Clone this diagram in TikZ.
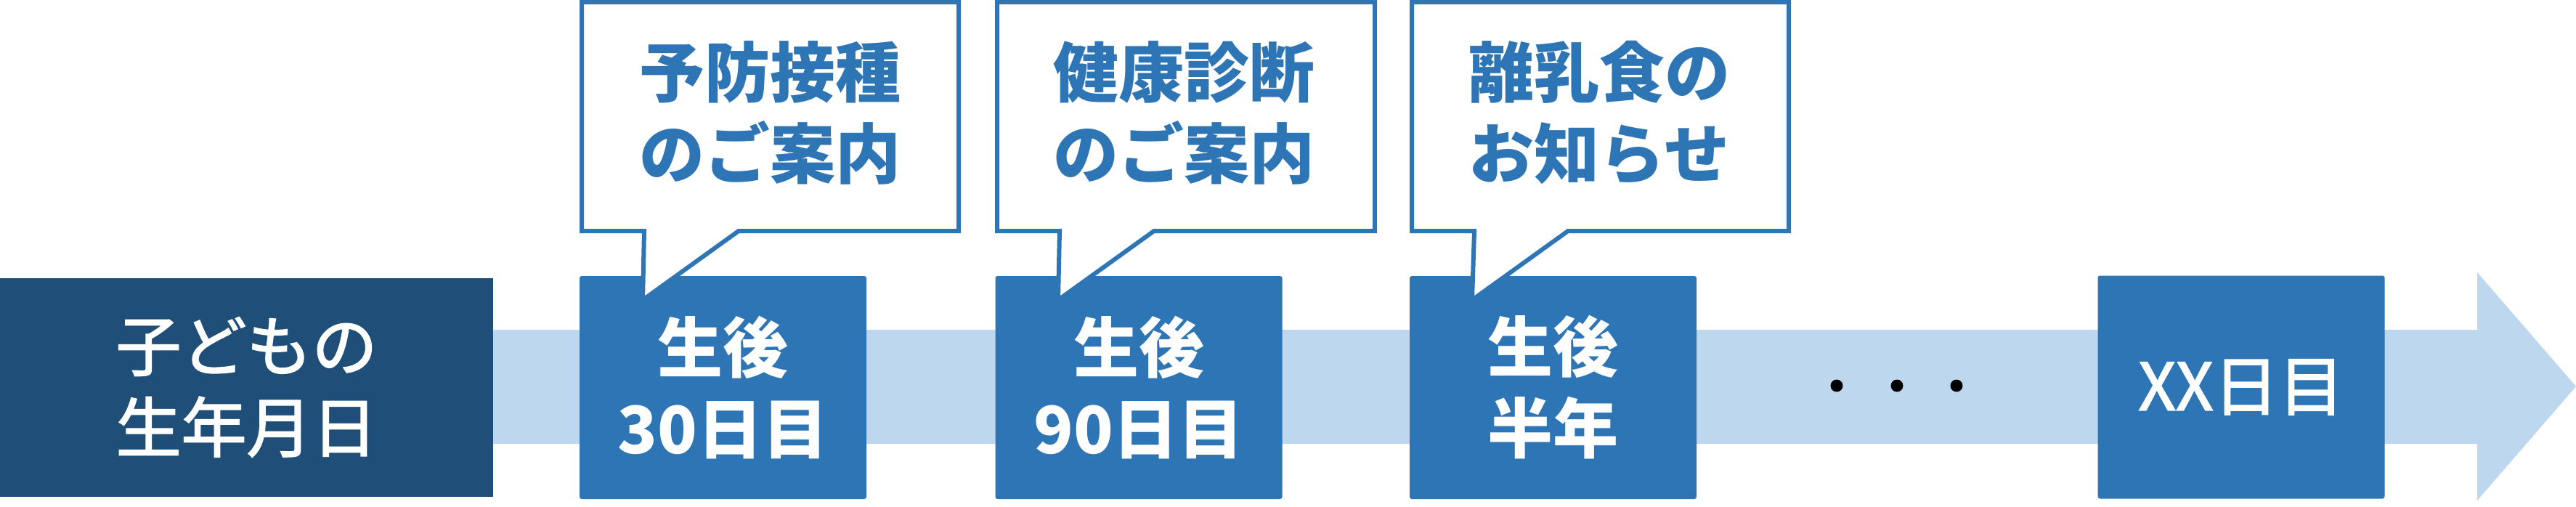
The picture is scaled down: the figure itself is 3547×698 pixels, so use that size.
\documentclass[tikz,border=0pt]{standalone}
\usepackage{fontspec}
\setmainfont{Noto Sans CJK JP}
\newfontfamily\jpmed{Noto Sans CJK JP}[FakeBold=2]
\definecolor{cDark}{HTML}{1F4E79}
\definecolor{cBlue}{HTML}{2E75B6}
\definecolor{cLight}{HTML}{BDD7EE}
\begin{document}
\begin{tikzpicture}[x=1pt,y=-1pt,
  bigtext/.style={font=\fontsize{90}{112}\selectfont, align=center, inner sep=0pt},
  medtext/.style={font=\jpmed\fontsize{90}{112}\selectfont},
  boldtext/.style={font=\fontsize{90}{112}\selectfont\bfseries},
  startbox/.style={fill=cDark, minimum width=679pt, minimum height=301pt, inner sep=0pt, text=white, bigtext, medtext},
  stagebox/.style={fill=cBlue, rounded corners=3pt, minimum width=395pt, minimum height=307pt, inner sep=0pt, text=white, bigtext},
  callout/.style={draw=cBlue, fill=white, line width=6pt, line join=miter},
  callouttext/.style={text=cBlue, bigtext, boldtext},
  dot/.style={circle, fill=black, minimum size=17pt, inner sep=0pt}
]
\useasboundingbox (0,0) rectangle (3547,698);
% timeline arrow
\fill[cLight] (600,454) -- (3411,454) -- (3411,375) -- (3547,532) -- (3411,689) -- (3411,611) -- (600,611) -- cycle;
% start box
\node[startbox] (start) at (339.5,533) {子どもの\\生年月日};
% stage boxes
\node[stagebox, boldtext] (s1) at (995.5,533.5) {生後\\30日目};
\node[stagebox, boldtext] (s2) at (1568,533.5) {生後\\90日目};
\node[stagebox, boldtext] (s3) at (2138.5,533.5) {生後\\半年};
\node[stagebox, medtext] (s4) at (3086,533) {XX日目};
% dots
\node[dot] (d1) at (2529,531) {};
\node[dot] (d2) at (2612,531) {};
\node[dot] (d3) at (2694,531) {};
% callouts
\draw[callout] (801,3) -- (1320,3) -- (1320,318) -- (1017,318) -- (885,413) -- (887,318) -- (801,318) -- cycle;
\node[callouttext] (c1) at (1060,155) {予防接種\\のご案内};
\draw[callout] (1373,3) -- (1893,3) -- (1893,318) -- (1589,318) -- (1457,413) -- (1459,318) -- (1373,318) -- cycle;
\node[callouttext] (c2) at (1630,155) {健康診断\\のご案内};
\draw[callout] (1944,3) -- (2463,3) -- (2463,318) -- (2159,318) -- (2027,413) -- (2030,318) -- (1944,318) -- cycle;
\node[callouttext] (c3) at (2202,155) {離乳食の\\お知らせ};
\end{tikzpicture}
\end{document}
